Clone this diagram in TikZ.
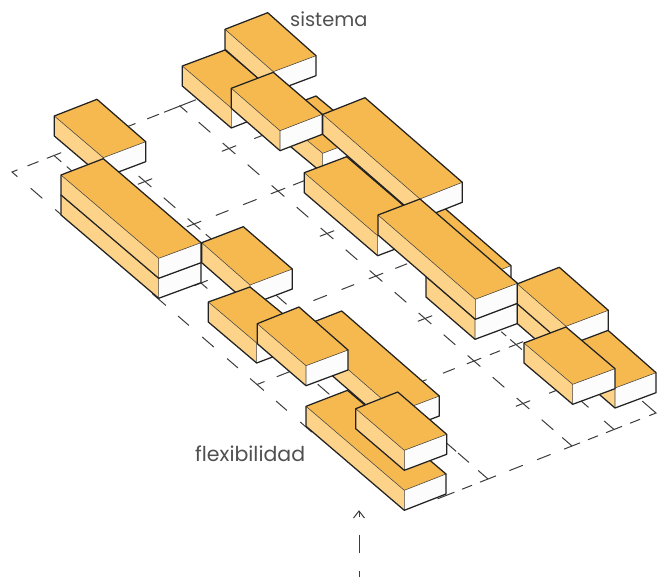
\documentclass[tikz,border=0pt]{standalone}
\usepackage{fontspec}
\setmainfont{Poppins}
\definecolor{topc}{HTML}{F6B950}
\definecolor{sidec}{HTML}{FDD38A}
\definecolor{whitec}{HTML}{FCFCFC}
\definecolor{inkc}{HTML}{222222}
\definecolor{gridc}{HTML}{3C3C3C}
\definecolor{textc}{HTML}{505050}
\tikzset{
  griddash/.style={draw=gridc,line width=1pt},
  outline/.style={draw=inkc,line width=1.25pt,line join=round},
  ridge/.style={draw=inkc!85,line width=0.55pt},
  label/.style={text=textc,inner sep=0pt,anchor=base west}
}
% L B R F corners of the top face; every box is 20 high
\newcommand{\isobox}[8]{%
  \pgfmathsetmacro{\lb}{#2+20}\pgfmathsetmacro{\rb}{#6+20}\pgfmathsetmacro{\fb}{#8+20}%
  \fill[whitec] (#7,#8)--(#5,#6)--(#5,\rb)--(#7,\fb)--cycle;
  \fill[sidec] (#1,#2)--(#7,#8)--(#7,\fb)--(#1,\lb)--cycle;
  \fill[topc] (#1,#2)--(#3,#4)--(#5,#6)--(#7,#8)--cycle;
  \draw[ridge] (#1,#2)--(#7,#8)--(#5,#6) (#7,#8)--(#7,\fb);
  \draw[outline] (#1,#2)--(#3,#4)--(#5,#6)--(#5,\rb)--(#7,\fb)--(#1,\lb)--cycle;
}
\newcommand{\tline}[2]{\foreach \i/\w in {#2}{\draw[griddash] ({\i-\w},#1)--({\i+\w},#1);}}
\newcommand{\lline}[2]{\foreach \j/\w in {#2}{\draw[griddash] (#1,{\j-\w})--(#1,{\j+\w});}}
\begin{document}
\begin{tikzpicture}[x=1pt,y=-1pt]
\useasboundingbox (0,0) rectangle (660,577);
\begin{scope}[x={(42pt,16.5pt)},y={(49pt,-42.5pt)},shift={(12pt,-172pt)}]
  % transverse lines
  \draw[griddash] (0.13,0)--(0,0)--(0,0.11);
  \tline{0}{0.5/0.13,1/0.17,2.82/0.12,3.36/0.14,4/0.38}
  \tline{1}{2/0.17,4/0.17,5/0.4}
  \tline{2}{2/0.17,2.67/0.15,3.33/0.16,4/0.17,4.5/0.14}
  \tline{3}{1/0.16,4/0.17}
  \tline{4}{2.67/0.16,3.33/0.15,4/0.17,4.6/0.14}
  \tline{5}{0.09/0.09,0.62/0.15,4/0.17}
  \tline{6}{2.75/0.12,3.4/0.14,4/0.17,4.5/0.12,5/0.17}
  \tline{7}{4/0.17,5/0.38}
  \tline{8}{1/0.2,1.5/0.12,2/0.19,2.67/0.16,3.33/0.16,4/0.19,4.5/0.12,5/0.19,5.5/0.12}
  \draw[griddash] (5.84,8)--(6,8)--(6,7.72);
  % long lines
  \lline{0}{0.5/0.12,1/0.12,3/0.14,3.5/0.11,4/0.12,4.5/0.11,5/0.14,5.5/0.11,6/0.12}
  \lline{1}{0.07/0.08,0.33/0.07,3/0.13,5.5/0.12}
  \lline{2}{1/0.13,1.5/0.12,2/0.13,2.3/0.06,3.75/0.14,7.25/0.1,7.5/0.11,7.9/0.1}
  \lline{4}{0.07/0.08,0.5/0.12,1/0.13,1.5/0.12,2/0.13,2.5/0.12,3/0.13,3.5/0.12,4/0.13,4.5/0.12,5/0.13,5.5/0.12,6/0.13,6.5/0.12,7/0.13,7.5/0.12,7.9/0.1}
  \lline{5}{5.75/0.05,6/0.12,7.4/0.08,7.9/0.1}
\end{scope}
% left group
\isobox{54.3}{116}{97}{99.3}{145.7}{141.7}{103.3}{157.7}
\isobox{61}{195}{103.3}{178.7}{201}{262.7}{158.7}{278.3}
\isobox{61}{175}{103.3}{158.7}{201}{242.7}{158.7}{258.3}
\isobox{201.7}{242.7}{243.3}{226.7}{292.3}{269}{250}{285}
\isobox{208.3}{302}{250}{287}{299}{327}{256.7}{343}
\isobox{299.7}{327.4}{341.7}{311}{439.3}{396}{397}{412}
\isobox{257.3}{323.7}{299}{307}{348}{350}{306}{365.7}
\isobox{306}{406.3}{347.5}{390.3}{446}{474}{404.3}{490.3}
\isobox{355.7}{408.7}{397.7}{392}{446.7}{434.3}{404.3}{450.3}
% right group
\isobox{182.3}{66}{225}{50}{274}{91.4}{231.3}{108}
\isobox{225}{29.3}{267.7}{12.7}{316}{55.7}{273.3}{71.7}
\isobox{273.3}{112.3}{316}{96}{365.4}{137}{322.7}{153.3}
\isobox{231.3}{88.3}{273.3}{72.3}{322.3}{114.3}{280}{130.7}
\isobox{371.2}{197.9}{413.7}{181.4}{511}{265.7}{468.5}{282.2}
\isobox{304.3}{172.7}{346.7}{156.7}{420}{219.7}{377.7}{235.7}
\isobox{322.7}{114.4}{365}{97.7}{462.3}{182.3}{420}{199}
\isobox{426}{277}{468.5}{261}{517.5}{303.5}{475}{319.3}
\isobox{378}{215}{420}{199}{517.5}{283.3}{475.3}{299.3}
\isobox{517.3}{303.6}{559.6}{287.6}{656}{372.7}{615}{388}
\isobox{517.3}{283.9}{559.3}{267.3}{608.3}{310.3}{566}{326.3}
\isobox{524}{343}{566}{327}{615}{368.7}{572.7}{384.3}
% labels
\node[label,font=\fontsize{19.4}{20}\selectfont] (sistema) at (290,27) {sistema};
\node[label,font=\fontsize{20.5}{22}\selectfont] (flexibilidad) at (195,461) {flexibilidad};
% arrow
\coordinate (arrowtail) at (359,577);
\coordinate (arrowtip) at (359,511);
\coordinate (arrowleft) at (353.5,518);
\coordinate (arrowright) at (364.5,518);
\draw[griddash,dash pattern=on 6pt off 18pt on 18pt off 18pt on 18pt] (arrowtip)--(arrowtail);
\draw[griddash] (arrowleft)--(arrowtip)--(arrowright);
\end{tikzpicture}
\end{document}
